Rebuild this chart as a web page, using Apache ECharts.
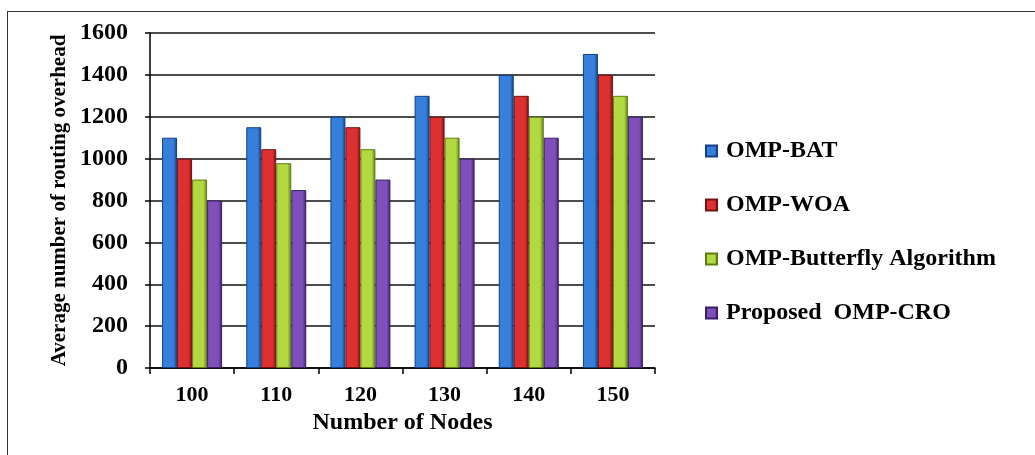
<!DOCTYPE html>
<html>
<head>
<meta charset="utf-8">
<script src="https://cdn.jsdelivr.net/npm/echarts@6/dist/echarts.min.js"></script>
<style>
  html, body { margin: 0; padding: 0; background: #fff; overflow: hidden; }
  #frame { position: absolute; left: 7px; top: 11px; width: 1040px; height: 460px; border: 1.5px solid #333; box-sizing: border-box; }
  #chart { position: absolute; left: 0; top: 0; width: 1035px; height: 455px; }
</style>
</head>
<body>
<div id="frame"></div>
<div id="chart"></div>
<script>
// Routing overhead per node count for each routing scheme
const nodeCounts = ['100', '110', '120', '130', '140', '150'];
const seriesNames = ['OMP-BAT', 'OMP-WOA', 'OMP-Butterfly Algorithm', 'Proposed  OMP-CRO'];
const ompBat = [1100, 1150, 1200, 1300, 1400, 1500];
const ompWoa = [1000, 1045, 1150, 1200, 1300, 1400];
const ompButterfly = [900, 978, 1045, 1100, 1200, 1300];
const proposedCro = [800, 850, 900, 1000, 1100, 1200];
const yTicks = [0, 200, 400, 600, 800, 1000, 1200, 1400, 1600];

const palette = ['#3680dc', '#dd3030', '#b2d842', '#7f4fba'];
const edges = ['#123f86', '#7a1010', '#5e7d12', '#3a1f66'];
const serif = '"Liberation Serif", "Times New Roman", serif';

const chart = echarts.init(document.getElementById('chart'));
const values = [ompBat, ompWoa, ompButterfly, proposedCro];

chart.setOption({
  animation: false,
  grid: { left: 150, right: 380, top: 33, bottom: 87, containLabel: false },
  legend: {
    orient: 'vertical',
    left: 700,
    top: 134,
    itemGap: 30,
    itemWidth: 11,
    itemHeight: 11,
    icon: 'rect',
    textStyle: { fontFamily: serif, fontWeight: 'bold', fontSize: 24, color: '#000', padding: [0, 0, 0, 4] },
    data: seriesNames
  },
  xAxis: {
    type: 'category',
    data: nodeCounts,
    name: 'Number of Nodes',
    nameLocation: 'middle',
    nameGap: 42,
    nameTextStyle: { fontFamily: serif, fontWeight: 'bold', fontSize: 24, color: '#000' },
    axisLine: { lineStyle: { color: '#000', width: 1.5 } },
    axisTick: { show: true, length: 6, lineStyle: { color: '#000', width: 1.5 } },
    axisLabel: { margin: 16, fontFamily: serif, fontWeight: 'bold', fontSize: 22, color: '#000' }
  },
  yAxis: {
    type: 'value',
    min: 0,
    max: 1600,
    interval: 200,
    name: 'Average number of routing overhead',
    nameLocation: 'middle',
    nameGap: 80,
    nameRotate: 90,
    nameTextStyle: { fontFamily: serif, fontWeight: 'bold', fontSize: 21, color: '#000' },
    axisLine: { show: true, lineStyle: { color: '#000', width: 1.5 } },
    axisTick: { show: true, length: 5, lineStyle: { color: '#000', width: 1.5 } },
    axisLabel: {
      margin: 22, fontFamily: serif, fontWeight: 'bold', fontSize: 24, color: '#000',
      formatter: v => (yTicks.includes(v) ? String(v) : '')
    },
    splitLine: { lineStyle: { color: '#111', width: 1.5 } }
  },
  series: seriesNames.map((name, i) => ({
    name,
    type: 'bar',
    data: values[i],
    barWidth: 15,
    barGap: '0%',
    itemStyle: {
      color: {
        type: 'linear', x: 0, y: 0, x2: 1, y2: 0,
        colorStops: [
          { offset: 0, color: palette[i] },
          { offset: 0.75, color: palette[i] },
          { offset: 1, color: edges[i] }
        ]
      },
      borderColor: edges[i],
      borderWidth: 1
    }
  }))
});
</script>
</body>
</html>
